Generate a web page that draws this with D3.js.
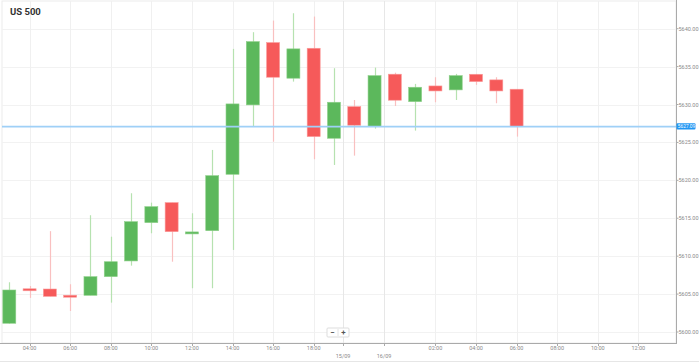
<!DOCTYPE html>
<html>
<head>
<meta charset="utf-8">
<script src="https://cdn.jsdelivr.net/npm/d3@7"></script>
<style>
  body { margin: 0; background: #fff; }
  svg { display: block; font-family: Roboto, "Open Sans", sans-serif; }
  .tick-label { fill: #8a8a8a; font-size: 5.5px; }
  .title { fill: #333; font-size: 9.5px; font-weight: bold; }
</style>
</head>
<body>
<div id="chart"></div>
<script>
const width = 699, height = 363;

// hourly candles, slot 0 = 03:00 on 15/09
const opens  = [5601.15, 5605.7, 5605.67, 5604.85, 5604.84, 5607.3, 5609.37, 5614.42, 5617.06, 5613.1,
                5613.36, 5620.8, 5629.95, 5638.17, 5633.47, 5637.42, 5625.55, 5629.72, 5627.08, 5634.0,
                5630.38, 5632.45, 5631.93, 5633.99, 5633.25, 5632.02];
const highs  = [5606.56, 5606.07, 5613.3, 5606.3, 5615.4, 5612.57, 5618.3, 5617.06, 5617.06, 5615.66,
                5624.01, 5637.34, 5639.54, 5641.07, 5642.04, 5641.6, 5634.79, 5630.6, 5634.87, 5634.2,
                5632.72, 5633.6, 5634.04, 5634.04, 5633.6, 5632.02];
const lows   = [5601.1, 5604.5, 5604.7, 5602.77, 5604.84, 5603.87, 5608.75, 5613.02, 5609.27, 5605.77,
                5605.77, 5610.82, 5627.08, 5625.1, 5633.02, 5622.78, 5622.03, 5623.26, 5626.82, 5629.8,
                5626.56, 5630.3, 5630.6, 5632.59, 5630.17, 5625.77];
const closes = [5605.54, 5605.5, 5604.7, 5604.7, 5607.3, 5609.27, 5614.55, 5616.53, 5613.23, 5613.2,
                5620.62, 5630.08, 5638.3, 5633.6, 5637.34, 5625.77, 5630.3, 5627.27, 5633.81, 5630.57,
                5632.28, 5631.79, 5633.81, 5633.02, 5631.79, 5627.09];

const timeSlots  = [1, 3, 5, 7, 9, 11, 13, 15, 21, 23, 25, 27, 29, 31];
const timeLabels = ['04:00','06:00','08:00','10:00','12:00','14:00','16:00','18:00',
                    '02:00','04:00','06:00','08:00','10:00','12:00'];
const dateSlots  = [16.45, 18.47];
const dateLabels = ['15/09', '16/09'];
const yTicks = [5600, 5605, 5610, 5615, 5620, 5625, 5630, 5635, 5640];
const currentPrice = 5627.09;

const plotLeft = 2, plotRight = 676, plotTop = 1, plotBottom = 343;

const x = d3.scaleLinear().domain([0, 25]).range([9.3, 516.6]);
const y = d3.scaleLinear().domain([5600, 5640]).range([332, 28.7]);
const bodyW = 13;

const svg = d3.select('#chart').append('svg')
    .attr('width', width).attr('height', height);

// frame
svg.append('rect')
    .attr('x', plotLeft).attr('y', plotTop)
    .attr('width', plotRight - plotLeft).attr('height', plotBottom - plotTop)
    .attr('fill', '#fff').attr('stroke', '#ececec');
svg.append('line')
    .attr('x1', 0).attr('x2', width).attr('y1', 361.5).attr('y2', 361.5)
    .attr('stroke', '#e6e6e6');

// grid
svg.append('g').selectAll('line').data(yTicks).join('line')
    .attr('x1', plotLeft).attr('x2', plotRight)
    .attr('y1', d => Math.round(y(d)) + 0.5).attr('y2', d => Math.round(y(d)) + 0.5)
    .attr('stroke', '#f2f2f2');
svg.append('g').selectAll('line').data(timeSlots).join('line')
    .attr('x1', d => Math.round(x(d)) + 0.5).attr('x2', d => Math.round(x(d)) + 0.5)
    .attr('y1', plotTop).attr('y2', plotBottom)
    .attr('stroke', '#f0f0f0');
svg.append('g').selectAll('line').data(dateSlots).join('line')
    .attr('x1', d => Math.round(x(d)) + 0.5).attr('x2', d => Math.round(x(d)) + 0.5)
    .attr('y1', plotTop).attr('y2', plotBottom)
    .attr('stroke', '#e7e7e7');

// candles
const idx = d3.range(opens.length);
const up = i => closes[i] >= opens[i];
const g = svg.append('g');
g.selectAll('line.wick').data(idx).join('line')
    .attr('class', 'wick')
    .attr('x1', i => Math.round(x(i)) + 0.5).attr('x2', i => Math.round(x(i)) + 0.5)
    .attr('y1', i => y(highs[i])).attr('y2', i => y(lows[i]))
    .attr('stroke', i => up(i) ? '#b6e2b0' : '#f9c0c0')
    .attr('stroke-width', 1.2);
g.selectAll('rect.body').data(idx).join('rect')
    .attr('class', 'body')
    .attr('x', i => x(i) - bodyW / 2)
    .attr('width', bodyW)
    .attr('y', i => y(Math.max(opens[i], closes[i])))
    .attr('height', i => Math.max(2, Math.abs(y(opens[i]) - y(closes[i]))))
    .attr('fill', i => up(i) ? '#5cb85c' : '#f65a5a')
    .attr('stroke', i => up(i) ? '#8fd08a' : '#fa9a9a')
    .attr('stroke-width', 0.6);

// current price line
svg.append('line')
    .attr('x1', plotLeft).attr('x2', plotRight)
    .attr('y1', y(currentPrice)).attr('y2', y(currentPrice))
    .attr('stroke', '#9fd0f7').attr('stroke-width', 1.6);

// right axis
svg.append('line')
    .attr('x1', plotRight + 0.5).attr('x2', plotRight + 0.5)
    .attr('y1', 0).attr('y2', plotBottom)
    .attr('stroke', '#aaa');
const ya = svg.append('g');
ya.selectAll('line').data(yTicks).join('line')
    .attr('x1', plotRight).attr('x2', plotRight + 2.5)
    .attr('y1', d => y(d)).attr('y2', d => y(d))
    .attr('stroke', '#aaa');
ya.selectAll('text').data(yTicks).join('text')
    .attr('class', 'tick-label')
    .attr('x', plotRight + 2.5).attr('y', d => y(d) + 2)
    .text(d => d.toFixed(2));

// price tag
svg.append('rect')
    .attr('x', plotRight + 0.5).attr('y', y(currentPrice) - 3.3)
    .attr('width', 19).attr('height', 6.2).attr('rx', 1)
    .attr('fill', '#2196f3');
svg.append('text')
    .attr('x', plotRight + 1.8).attr('y', y(currentPrice) + 1.7)
    .attr('fill', '#fff').style('font-size', '4.8px')
    .text(currentPrice.toFixed(2));

// bottom axis
svg.append('line')
    .attr('x1', 0).attr('x2', plotRight + 1)
    .attr('y1', plotBottom + 0.5).attr('y2', plotBottom + 0.5)
    .attr('stroke', '#aaa');
const xa = svg.append('g');
xa.selectAll('line').data(timeSlots.concat(dateSlots)).join('line')
    .attr('x1', d => Math.round(x(d)) + 0.5).attr('x2', d => Math.round(x(d)) + 0.5)
    .attr('y1', plotBottom).attr('y2', plotBottom + 3)
    .attr('stroke', '#aaa');
xa.selectAll('text.t').data(timeSlots).join('text')
    .attr('class', 'tick-label t')
    .attr('x', d => x(d)).attr('y', 350)
    .attr('text-anchor', 'middle')
    .text((d, i) => timeLabels[i]);
xa.selectAll('text.d').data(dateSlots).join('text')
    .attr('class', 'tick-label d')
    .attr('x', d => x(d)).attr('y', 357.5)
    .attr('text-anchor', 'middle')
    .text((d, i) => dateLabels[i]);

// title
svg.append('text').attr('class', 'title')
    .attr('x', 10).attr('y', 15).text('US 500');

// zoom buttons
const zb = svg.append('g').attr('transform', 'translate(327,328)');
zb.append('rect').attr('width', 22).attr('height', 9).attr('rx', 1)
    .attr('fill', '#fff').attr('stroke', '#ddd');
zb.append('line').attr('x1', 11).attr('x2', 11).attr('y1', 1).attr('y2', 8).attr('stroke', '#e4e4e4');
zb.append('text').attr('x', 5.5).attr('y', 7).attr('text-anchor', 'middle')
    .attr('fill', '#555').style('font-size', '8px').style('font-weight', 'bold').text('−');
zb.append('text').attr('x', 16.5).attr('y', 7.3).attr('text-anchor', 'middle')
    .attr('fill', '#555').style('font-size', '8px').style('font-weight', 'bold').text('+');
</script>
</body>
</html>
